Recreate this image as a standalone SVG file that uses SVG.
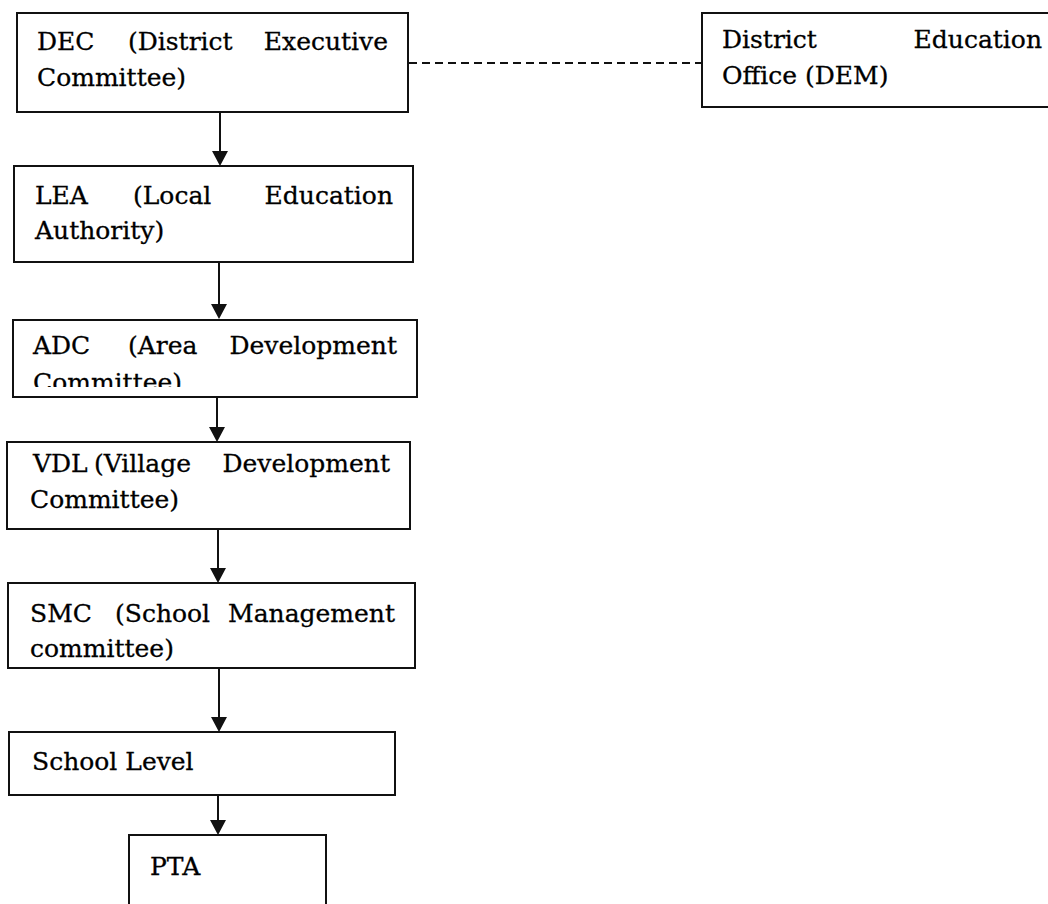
<svg xmlns="http://www.w3.org/2000/svg" width="1048" height="904" viewBox="0 0 1048 904">
<style>
.box{fill:#fff;stroke:#111;stroke-width:2}
.t{font-family:"DejaVu Serif","Liberation Serif",serif;font-size:25px;fill:#000;stroke:#000;stroke-width:0.3}
.e{text-anchor:end}
.ln{stroke:#111;stroke-width:2;fill:none}
.head{fill:#111}
.dash{stroke:#111;stroke-width:2;fill:none;stroke-dasharray:8 5}
</style>
<defs>
<clipPath id="adcClip"><rect x="0" y="300" width="440" height="87"/></clipPath>
</defs>
<rect width="1048" height="904" fill="#fff"/>
<g id="connectors">
<line class="dash" x1="409" y1="63" x2="702" y2="63"/>
<path class="ln" d="M220,112 V152"/>
<path class="head" d="M212,151 L228,151 L220,166 Z"/>
<path class="ln" d="M219,262 V305"/>
<path class="head" d="M211,304 L227,304 L219,319 Z"/>
<path class="ln" d="M217,397 V428"/>
<path class="head" d="M209,427 L225,427 L217,442 Z"/>
<path class="ln" d="M218,529 V569"/>
<path class="head" d="M210,568 L226,568 L218,583 Z"/>
<path class="ln" d="M219,668 V718"/>
<path class="head" d="M211,717 L227,717 L219,732 Z"/>
<path class="ln" d="M218,795 V821"/>
<path class="head" d="M210,820 L226,820 L218,835 Z"/>
</g>
<g id="dec">
<rect class="box" x="17" y="13" width="391" height="99"/>
<text class="t" x="37" y="50">DEC</text>
<text class="t" x="128" y="50">(District</text>
<text class="t e" x="388" y="50">Executive</text>
<text class="t" x="37" y="86">Committee)</text>
</g>
<g id="dem">
<rect class="box" x="702" y="13" width="360" height="94"/>
<text class="t" x="722" y="48">District</text>
<text class="t e" x="1042" y="48">Education</text>
<text class="t" x="722" y="84">Office (DEM)</text>
</g>
<g id="lea">
<rect class="box" x="14" y="166" width="399" height="96"/>
<text class="t" x="35" y="204">LEA</text>
<text class="t" x="133" y="204">(Local</text>
<text class="t e" x="393" y="204">Education</text>
<text class="t" x="35" y="239">Authority)</text>
</g>
<g id="adc">
<rect class="box" x="13" y="320" width="404" height="77"/>
<text class="t" x="33" y="354">ADC</text>
<text class="t" x="128" y="354">(Area</text>
<text class="t e" x="397" y="354">Development</text>
<text class="t" x="33" y="391" clip-path="url(#adcClip)">Committee)</text>
</g>
<g id="vdl">
<rect class="box" x="7" y="442" width="403" height="87"/>
<text class="t" x="33" y="472">VDL</text>
<text class="t" x="94" y="472">(Village</text>
<text class="t e" x="390" y="472">Development</text>
<text class="t" x="30" y="508">Committee)</text>
</g>
<g id="smc">
<rect class="box" x="8" y="583" width="407" height="85"/>
<text class="t" x="30" y="622">SMC</text>
<text class="t" x="115" y="622">(School</text>
<text class="t e" x="395" y="622">Management</text>
<text class="t" x="30" y="657">committee)</text>
</g>
<g id="school">
<rect class="box" x="9" y="732" width="386" height="63"/>
<text class="t" x="32" y="770">School Level</text>
</g>
<g id="pta">
<rect class="box" x="129" y="835" width="197" height="80"/>
<text class="t" x="150" y="875">PTA</text>
</g>
</svg>
